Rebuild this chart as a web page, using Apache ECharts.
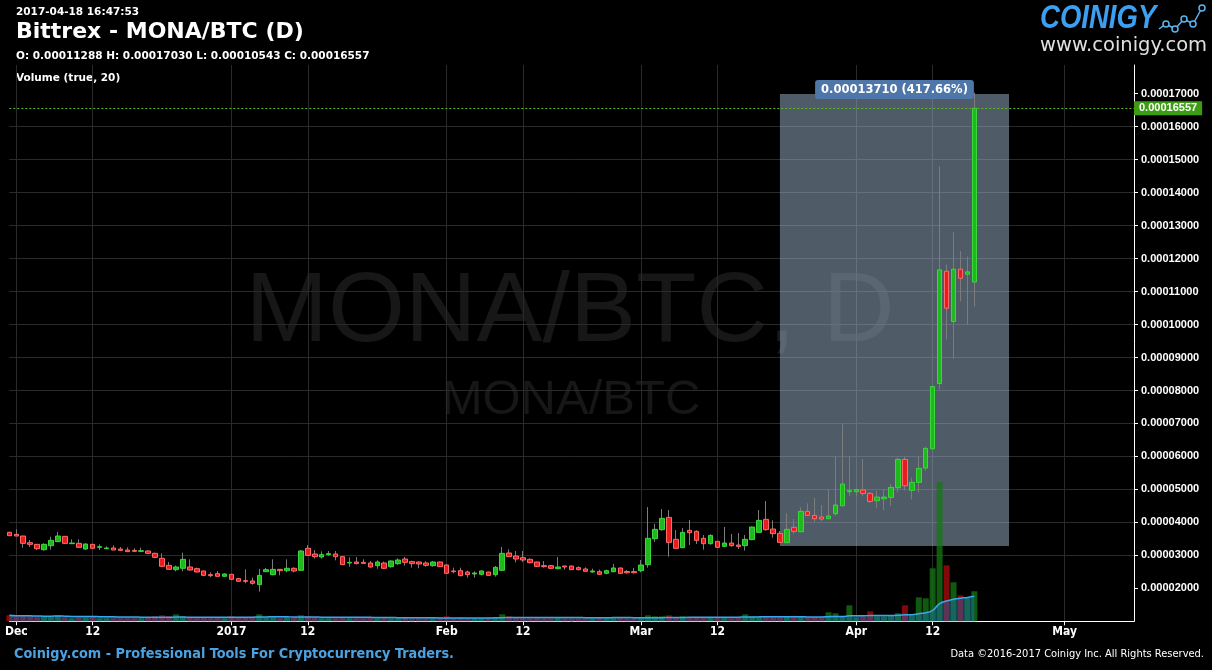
<!DOCTYPE html>
<html>
<head>
<meta charset="utf-8">
<script src="https://cdn.jsdelivr.net/npm/echarts@6/dist/echarts.min.js"></script>
<style>
html,body{margin:0;padding:0;background:#000;}
#c{width:1212px;height:670px;}
</style>
</head>
<body>
<div id="c"></div>
<script>
// Daily candles 2016-11-30 .. 2017-04-18, prices in satoshi (1e-8 BTC)
const firstDay = '2016-11-30';
const axisDays = 163; // category slots 2016-11-30 .. 2017-05-11
const open = [3697,3637,3586,3384,3334,3172,3293,3415,3576,3354,
  3364,3192,3334,3243,3202,3223,3192,3162,3152,3122,
  3132,3061,2910,2697,2566,2607,2647,2596,2526,2415,
  2445,2364,2425,2293,2233,2223,2112,2505,2415,2576,
  2536,2607,2546,3213,3041,2950,3021,3041,2960,2768,
  2798,2788,2768,2687,2768,2657,2748,2889,2809,2798,
  2768,2687,2798,2708,2526,2536,2495,2435,2425,2495,
  2415,2546,3071,2980,2930,2879,2798,2687,2687,2596,
  2677,2677,2627,2586,2495,2505,2455,2505,2617,2510,
  2505,2536,2718,3506,3778,4152,3485,3233,3758,3728,
  3516,3354,3425,3273,3374,3313,3293,3475,3697,4091,
  3798,3667,3384,3849,3717,4334,4212,4162,4111,4263,
  4505,4929,4929,4980,4879,4657,4717,4758,5051,5909,
  4970,5212,5647,6232,8212,11616,10091,11677,11525,11288];
const high = [3720,3788,3590,3465,3340,3364,3566,3707,3580,3485,
  3485,3364,3340,3334,3273,3303,3253,3243,3213,3233,
  3162,3081,3061,2798,2687,3081,2879,2627,2530,2485,
  2526,2455,2430,2303,2576,2324,2586,2617,2879,2580,
  2879,2637,3162,3313,3162,3122,3132,3132,2970,2940,
  2950,2879,2829,2849,2809,2849,2910,2950,2839,2819,
  2819,2829,2809,2718,2627,2627,2536,2516,2546,2505,
  2677,3253,3182,3132,3132,2910,2809,2829,2708,2950,
  2680,2687,2667,2637,2596,2566,2566,2738,2627,2556,
  2620,2859,4465,3960,4404,4374,3768,3829,4071,3758,
  3616,3637,3435,3859,3647,3677,3616,3870,4374,4647,
  4061,3738,4273,4101,4455,4576,4738,4526,4980,5990,
  6980,5990,5000,5930,4919,4960,4980,5162,5970,5990,
  5354,5990,6293,8130,14798,11818,12798,12222,12061,17030];
const low = [3590,3580,3233,3253,3162,3142,3172,3410,3360,3350,
  3240,3172,3210,3162,3192,3160,3132,3110,3101,3101,
  3051,2910,2665,2556,2516,2516,2536,2485,2364,2334,
  2354,2354,2253,2203,2152,2112,1900,2495,2394,2394,
  2485,2485,2536,2980,2900,2900,2990,2849,2708,2657,
  2728,2738,2627,2596,2586,2627,2708,2687,2627,2607,
  2657,2657,2647,2445,2455,2364,2324,2324,2394,2384,
  2354,2526,2950,2788,2798,2758,2657,2627,2586,2576,
  2566,2556,2546,2495,2475,2404,2425,2485,2445,2445,
  2445,2485,2627,3404,3748,2960,3202,3225,3313,3344,
  3172,3324,3233,3263,3263,3192,3142,3465,3687,3748,
  3536,3374,3380,3647,3715,4192,4020,4041,4091,4202,
  4500,4798,4778,4798,4596,4435,4374,4505,4909,4970,
  4697,4909,5566,6180,8030,9545,8960,10707,9990,10543];
const close = [3596,3586,3364,3334,3202,3334,3455,3586,3364,3374,
  3243,3344,3213,3263,3223,3162,3152,3112,3122,3142,
  3061,2940,2667,2576,2647,2879,2556,2495,2394,2384,
  2364,2435,2273,2213,2213,2152,2394,2566,2576,2536,
  2607,2526,3132,3000,2960,3021,3051,2960,2718,2788,
  2748,2758,2647,2798,2607,2829,2859,2788,2748,2738,
  2697,2798,2657,2455,2505,2384,2415,2465,2526,2394,
  2637,3061,2960,2889,2859,2778,2667,2657,2607,2647,
  2647,2566,2566,2516,2526,2425,2536,2617,2455,2470,
  2475,2707,3516,3788,4121,3394,3213,3697,3687,3455,
  3354,3606,3243,3374,3293,3273,3485,3859,4061,3778,
  3657,3394,3788,3728,4334,4212,4111,4101,4192,4526,
  5162,4960,4990,4879,4637,4768,4768,5061,5909,5111,
  5212,5637,6243,8121,11657,10495,11677,11404,11596,16557];
// daily volume (relative units)
const volume = [6,5,6,5,4,5,5,6,4,3,
  4,4,5,3,3,3,3,3,3,3,
  4,5,6,5,7,5,4,4,4,3,
  4,3,5,4,4,4,7,4,4,3,
  4,4,6,5,4,3,3,3,4,3,
  3,3,4,3,4,3,3,4,3,3,
  3,3,4,5,3,4,3,3,3,4,
  4,7,5,4,4,3,4,3,3,4,
  3,3,3,3,3,4,3,4,4,3,
  3,4,6,5,5,6,4,5,4,4,
  4,4,4,4,3,4,7,5,5,5,
  4,4,5,4,5,4,4,4,9,8,
  5,16,4,5,10,5,5,6,8,16,
  6,24,23,53,139,56,39,26,24,30];
const maPeriod = 20;
const xTickDates = ['2016-12-01','2016-12-12','2017-01-01','2017-01-12','2017-02-01','2017-02-12','2017-03-01','2017-03-12','2017-04-01','2017-04-12','2017-05-01'];
const xTickLabels = ['Dec','12','2017','12','Feb','12','Mar','12','Apr','12','May'];
const yTickValues = [2000,3000,4000,5000,6000,7000,8000,9000,10000,11000,12000,13000,14000,15000,16000,17000];
const lastPrice = 16557;
const measureLow = 3283, measureHigh = 16993;
const measureText = '0.00013710 (417.66%)';

// ---- build
const dates = [];
{
  const d0 = new Date(firstDay + 'T00:00:00Z');
  for (let i = 0; i < axisDays; i++) {
    const d = new Date(d0.getTime() + i * 86400000);
    dates.push(d.toISOString().slice(0, 10));
  }
}
const tickIdx = new Set(xTickDates.map(d => dates.indexOf(d)));
const labelMap = {};
xTickDates.forEach((d, i) => labelMap[d] = xTickLabels[i]);
const tickFn = (idx) => tickIdx.has(idx);

const wickData = open.map((o, i) => [o, close[i], low[i], high[i]]);
const bodyData = open.map((o, i) => [o, close[i], Math.min(o, close[i]), Math.max(o, close[i])]);
const volData = volume.map((v, i) => ({
  value: v,
  itemStyle: { color: close[i] >= open[i] ? 'rgba(20,120,20,0.75)' : 'rgba(165,10,10,0.8)' }
}));
const maData = volume.map((v, i) => {
  const s = Math.max(0, i - maPeriod + 1);
  let sum = 0; for (let k = s; k <= i; k++) sum += volume[k];
  return sum / (i - s + 1);
});
const fmt = v => (v / 1e8).toFixed(8);

const chart = echarts.init(document.getElementById('c'), null, { renderer: 'canvas' });
const narrow = '"Liberation Sans Narrow","DejaVu Sans Condensed","Liberation Sans",sans-serif';
const option = {
  backgroundColor: '#000',
  animation: false,
  grid: { left: 9.33, right: 78, top: 65, bottom: 48.7 },
  xAxis: {
    type: 'category', data: dates, boundaryGap: false, min: 0, max: 161.5,
    axisLine: { lineStyle: { color: '#fff', width: 1 } },
    axisTick: { show: true, interval: tickFn, length: 4, lineStyle: { color: '#fff' } },
    axisLabel: { interval: tickFn, formatter: v => labelMap[v] || '', color: '#fff',
      fontFamily: narrow, fontWeight: 'bold', fontSize: 12, margin: 5 },
    splitLine: { show: true, interval: tickFn, lineStyle: { color: '#2a2a2a', width: 1 } }
  },
  yAxis: [{
    type: 'value', position: 'right', min: 1000, max: 17870, interval: 1000, scale: true,
    axisLine: { show: true, lineStyle: { color: '#fff' } },
    axisTick: { show: true, length: 4, customValues: yTickValues, lineStyle: { color: '#fff' } },
    axisLabel: { customValues: yTickValues, color: '#fff', fontFamily: '"Liberation Sans",Arial,sans-serif',
      fontWeight: 'bold', fontSize: 11, margin: 7,
      formatter: v => (v % 1000 === 0 && v >= 2000 && v <= 17000) ? fmt(v) : '' },
    splitLine: { show: true, showMinLine: false, showMaxLine: false, lineStyle: { color: '#2a2a2a', width: 1 } }
  }, {
    type: 'value', min: 0, max: 556.3, show: false, splitLine: { show: false }
  }],
  graphic: [
    { type: 'text', z: -10, x: 570, y: 314, style: { text: 'MONA/BTC, D', fill: '#171717',
      font: '99px "Liberation Sans", Arial, sans-serif', textAlign: 'center', textVerticalAlign: 'middle' } },
    { type: 'text', z: -10, x: 571, y: 400, style: { text: 'MONA/BTC', fill: '#171717',
      font: '49px "Liberation Sans", Arial, sans-serif', textAlign: 'center', textVerticalAlign: 'middle' } },
    { type: 'text', x: 16, y: 12, style: { text: '2017-04-18 16:47:53', fill: '#fff',
      font: 'bold 10.5px "DejaVu Sans"', textVerticalAlign: 'middle' } },
    { type: 'text', x: 16, y: 32, style: { text: 'Bittrex - MONA/BTC (D)', fill: '#fff',
      font: 'bold 22px "DejaVu Sans"', textVerticalAlign: 'middle' } },
    { type: 'text', x: 16, y: 56, style: { text: 'O: 0.00011288 H: 0.00017030 L: 0.00010543 C: 0.00016557', fill: '#fff',
      font: 'bold 10.5px "DejaVu Sans"', textVerticalAlign: 'middle' } },
    { type: 'text', x: 16, y: 78.5, style: { text: 'Volume (true, 20)', fill: '#fff',
      font: 'bold 10.5px "DejaVu Sans"', textVerticalAlign: 'middle' } },
    { type: 'text', x: 1040, y: 2, scaleX: 0.81, style: { text: 'COINIGY', fill: '#3d9ff0',
      font: 'italic bold 34px "Liberation Sans", Arial, sans-serif', textVerticalAlign: 'top' } },
    { type: 'polyline', shape: { points: [[1159,29],[1166,24],[1175,29],[1184,19],[1193,24],[1202,8]] },
      style: { stroke: '#5ab4ee', lineWidth: 1.5, fill: null } },
    { type: 'circle', shape: { cx: 1166, cy: 24, r: 3 }, style: { stroke: '#5ab4ee', fill: '#000', lineWidth: 1.5 } },
    { type: 'circle', shape: { cx: 1175, cy: 29, r: 3 }, style: { stroke: '#5ab4ee', fill: '#000', lineWidth: 1.5 } },
    { type: 'circle', shape: { cx: 1184, cy: 19, r: 3 }, style: { stroke: '#5ab4ee', fill: '#000', lineWidth: 1.5 } },
    { type: 'circle', shape: { cx: 1193, cy: 24, r: 3 }, style: { stroke: '#5ab4ee', fill: '#000', lineWidth: 1.5 } },
    { type: 'circle', shape: { cx: 1202, cy: 8, r: 3 }, style: { stroke: '#5ab4ee', fill: '#000', lineWidth: 1.5 } },
    { type: 'text', x: 1040, y: 46, style: { text: 'www.coinigy.com', fill: '#e0e0e0',
      font: '19.5px "DejaVu Sans"', textVerticalAlign: 'middle' } },
    { type: 'text', x: 14, y: 654, style: { text: 'Coinigy.com - Professional Tools For Cryptocurrency Traders.', fill: '#4ba2e2',
      font: 'bold 14.3px ' + narrow, textVerticalAlign: 'middle' } },
    { type: 'text', x: 1204, y: 654, style: { text: 'Data \u00a92016-2017 Coinigy Inc. All Rights Reserved.', fill: '#fff',
      font: '11px ' + narrow, textAlign: 'right', textVerticalAlign: 'middle' } }
  ],
  series: [
    {
      name: 'wicks', type: 'candlestick', data: wickData, barWidth: 1, z: 2,
      itemStyle: { color: '#7c7c7c', color0: '#7c7c7c', borderColor: '#7c7c7c', borderColor0: '#7c7c7c', borderWidth: 1 }
    },
    {
      name: 'MONA/BTC', type: 'candlestick', data: bodyData, barWidth: 5, z: 3,
      itemStyle: { color: '#1fb81f', color0: '#e81c1c', borderColor: '#3ad83a', borderColor0: '#ff6a6a', borderWidth: 1 },
      markArea: {
        silent: true, z: 1,
        itemStyle: { color: 'rgba(160,182,208,0.5)' },
        label: { show: true, position: 'top', distance: -5, formatter: measureText, color: '#fff',
          backgroundColor: '#4f76a9', padding: [4, 6, 3, 6], borderRadius: 3,
          fontFamily: '"DejaVu Sans"', fontWeight: 'bold', fontSize: 11.5 },
        data: [[{ xAxis: 111.27, yAxis: measureLow }, { xAxis: 144.34, yAxis: measureHigh }]]
      },
      markLine: {
        silent: true, symbol: ['none', 'none'],
        lineStyle: { color: '#5cb82c', type: [2, 2], width: 1 },
        label: { show: true, position: 'end', distance: 0, formatter: fmt(lastPrice), color: '#fff',
          backgroundColor: '#3c9c14', padding: [2, 5, 1, 5],
          fontFamily: '"Liberation Sans",Arial,sans-serif', fontWeight: 'bold', fontSize: 11 },
        data: [{ yAxis: lastPrice }]
      }
    },
    {
      name: 'Volume', type: 'bar', yAxisIndex: 1, data: volData, barWidth: 6, z: 4
    },
    {
      name: 'Volume MA', type: 'line', yAxisIndex: 1, data: maData, smooth: true, symbol: 'none', z: 5,
      lineStyle: { color: '#3aa6ec', width: 1.5 },
      areaStyle: { color: 'rgba(30,125,205,0.55)' }
    }
  ]
};
chart.setOption(option);
</script>
</body>
</html>
